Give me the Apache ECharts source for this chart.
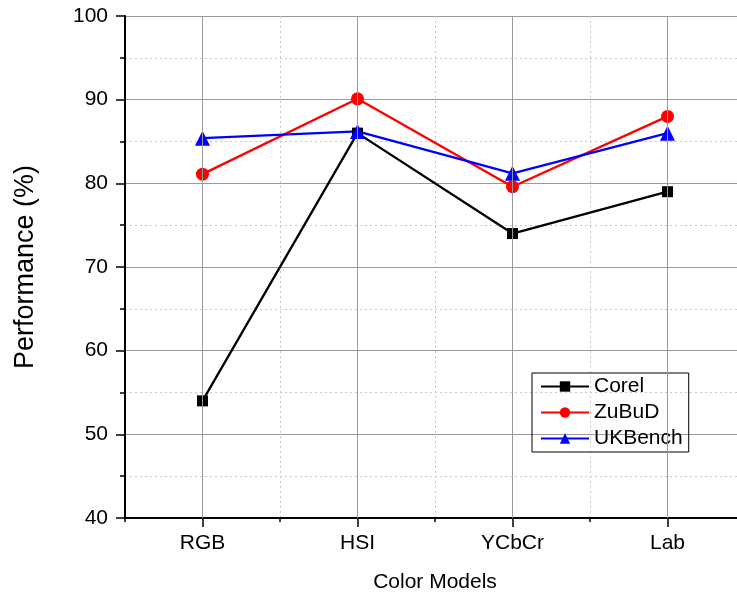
<!DOCTYPE html>
<html>
<head>
<meta charset="utf-8">
<script src="https://cdn.jsdelivr.net/npm/echarts@6/dist/echarts.min.js"></script>
<style>
  html, body { margin: 0; padding: 0; background: #fff; overflow: hidden; }
  #chart { width: 745px; height: 595px; }
</style>
</head>
<body>
<div id="chart"></div>
<script>
const categories = ["RGB", "HSI", "YCbCr", "Lab"];
const corel = [54, 86, 74, 79];
const zubud = [81.1, 90.1, 79.6, 88];
const ukbench = [85.4, 86.2, 81.2, 86];
const yTicks = [40, 50, 60, 70, 80, 90, 100];

const font = "Liberation Sans";
const chart = echarts.init(document.getElementById("chart"));

function lineSeries(name, data, color, symbol, size) {
  return {
    name: name,
    type: "line",
    data: data,
    symbol: symbol,
    symbolSize: size,
    lineStyle: { color: color, width: 2.3 },
    itemStyle: { color: color },
    z: 3,
  };
}

chart.setOption({
  animation: false,
  grid: { left: 125, right: 0, top: 16, bottom: 77, outerBoundsMode: "none" },
  legend: {
    orient: "vertical",
    left: 532,
    top: 373,
    itemWidth: 48,
    itemHeight: 13,
    itemGap: 5,
    padding: [3, 6, 3, 8],
    borderColor: "#000",
    borderWidth: 1,
    borderRadius: 0,
    textStyle: { fontFamily: font, fontSize: 21, color: "#000" },
    data: ["Corel", "ZuBuD", "UKBench"],
  },
  xAxis: [
    {
      type: "category",
      data: categories,
      boundaryGap: true,
      name: "Color Models",
      nameLocation: "middle",
      nameGap: 54,
      nameTextStyle: { fontFamily: font, fontSize: 21, color: "#000" },
      axisLine: { lineStyle: { color: "#000", width: 2 } },
      axisTick: { show: true, length: 4, lineStyle: { color: "#000", width: 1.5 } },
      axisLabel: { fontFamily: font, fontSize: 21, color: "#000", margin: 15 },
      splitLine: { show: true, lineStyle: { color: "#c8c8c8", type: [2, 3], width: 1 } },
    },
    {
      type: "category",
      data: categories,
      boundaryGap: true,
      position: "bottom",
      axisLine: { show: false },
      axisTick: { show: true, alignWithLabel: true, length: 9, lineStyle: { color: "#000", width: 1.5 } },
      axisLabel: { show: false },
      splitLine: { show: false },
    },
  ],
  yAxis: {
    type: "value",
    min: yTicks[0],
    max: yTicks[yTicks.length - 1],
    interval: 10,
    name: "Performance (%)",
    nameLocation: "middle",
    nameGap: 86,
    nameTextStyle: { fontFamily: font, fontSize: 27, color: "#000" },
    axisLine: { show: true, lineStyle: { color: "#000", width: 2 } },
    axisTick: { show: true, length: 9, lineStyle: { color: "#000", width: 1.5 } },
    minorTick: { show: true, splitNumber: 2, length: 5, lineStyle: { color: "#000", width: 1.5 } },
    axisLabel: { fontFamily: font, fontSize: 21, color: "#000", margin: 17 },
    splitLine: { show: true, lineStyle: { color: "#999", width: 1 } },
    minorSplitLine: { show: true, lineStyle: { color: "#c8c8c8", type: [2, 3], width: 1 } },
  },
  series: [
    {
      type: "line",
      data: [],
      silent: true,
      z: 1,
      markLine: {
        silent: true,
        symbol: "none",
        label: { show: false },
        lineStyle: { color: "#999", type: "solid", width: 1 },
        data: categories.map(function (c) { return { xAxis: c }; }),
      },
    },
    lineSeries("Corel", corel, "#000", "rect", 11),
    lineSeries("ZuBuD", zubud, "#ff0000", "circle", 13),
    lineSeries("UKBench", ukbench, "#0000ff", "triangle", 15),
  ],
});
</script>
</body>
</html>
